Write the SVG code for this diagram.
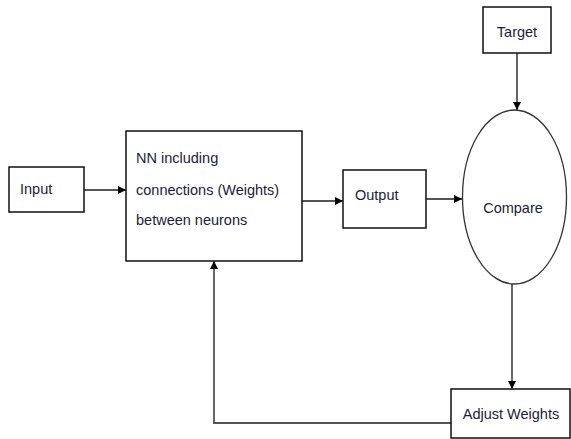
<svg xmlns="http://www.w3.org/2000/svg" width="571" height="439" viewBox="0 0 571 439">
<style>
.box{fill:#fff;stroke:#111;stroke-width:1.5}
.lbl{font-family:"Liberation Sans",Arial,sans-serif;font-size:14.5px;fill:#1c1c3a}
.con{fill:none;stroke:#555;stroke-width:1.8}
</style>
<defs>
<marker id="ah" viewBox="0 0 10 10" refX="10" refY="5" markerWidth="8" markerHeight="8" markerUnits="userSpaceOnUse" orient="auto">
<path d="M0,0 L10,5 L0,10 Z" fill="#000"/>
</marker>
</defs>
<rect width="571" height="439" fill="#fff"/>
<g id="connectors">
<line class="con" x1="84" y1="190" x2="126" y2="190" marker-end="url(#ah)" stroke="#888"/>
<line class="con" x1="302" y1="201" x2="343" y2="201" marker-end="url(#ah)"/>
<line class="con" x1="426" y1="199" x2="462" y2="199" marker-end="url(#ah)"/>
<line class="con" x1="517" y1="53" x2="517" y2="110" marker-end="url(#ah)"/>
<line class="con" x1="512" y1="284" x2="512" y2="389" marker-end="url(#ah)"/>
<polyline class="con" points="451,423 214,423 214,261" marker-end="url(#ah)"/>
</g>
<g id="input">
<rect class="box" x="9" y="167" width="75" height="45"/>
<text class="lbl" x="20" y="194">Input</text>
</g>
<g id="nn">
<rect class="box" x="126" y="131" width="176" height="130"/>
<text class="lbl" x="136" y="163">NN including</text>
<text class="lbl" x="136" y="195">connections (Weights)</text>
<text class="lbl" x="136" y="225">between neurons</text>
</g>
<g id="output">
<rect class="box" x="343" y="170" width="83" height="58"/>
<text class="lbl" x="355" y="200">Output</text>
</g>
<g id="target">
<rect class="box" x="483" y="7" width="68" height="46"/>
<text class="lbl" x="517" y="37" text-anchor="middle">Target</text>
</g>
<g id="compare">
<ellipse cx="514.5" cy="197" rx="52" ry="87" fill="#fff" stroke="#333" stroke-width="1.3"/>
<text class="lbl" x="513" y="213" text-anchor="middle">Compare</text>
</g>
<g id="adjust">
<rect class="box" x="451" y="389" width="119" height="49"/>
<text class="lbl" x="511" y="419" text-anchor="middle">Adjust Weights</text>
</g>
</svg>
